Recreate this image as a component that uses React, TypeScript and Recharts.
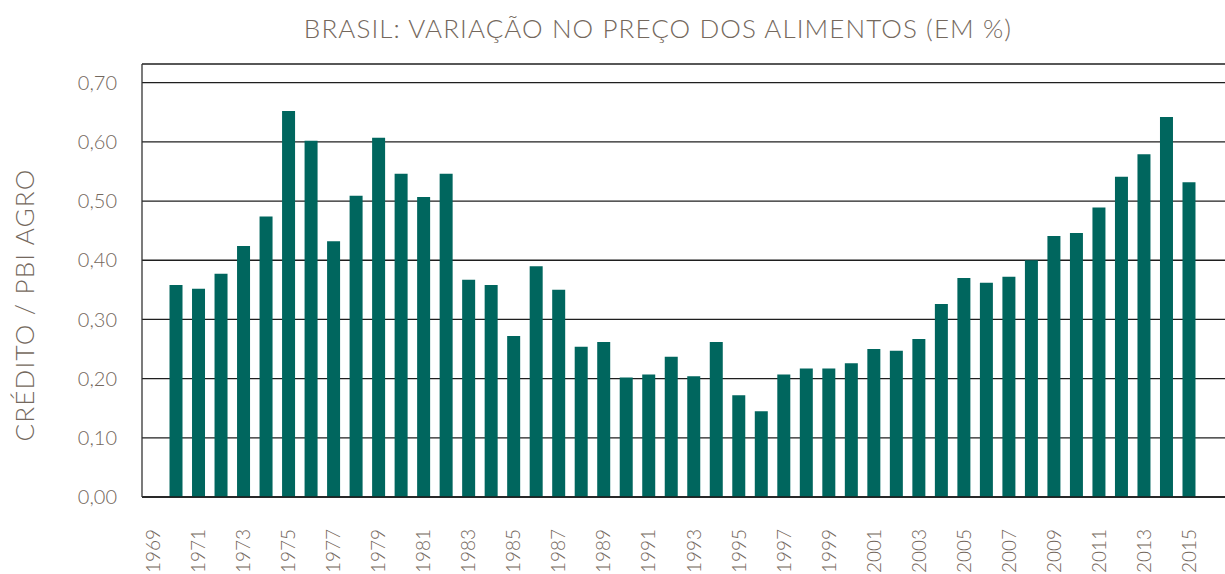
import React from 'react';
import { BarChart, Bar, XAxis, YAxis, CartesianGrid } from 'recharts';

// anos (1969 fica sem barra no original)
const years = [
  1969, 1970, 1971, 1972, 1973, 1974, 1975, 1976, 1977, 1978, 1979,
  1980, 1981, 1982, 1983, 1984, 1985, 1986, 1987, 1988, 1989,
  1990, 1991, 1992, 1993, 1994, 1995, 1996, 1997, 1998, 1999,
  2000, 2001, 2002, 2003, 2004, 2005, 2006, 2007, 2008, 2009,
  2010, 2011, 2012, 2013, 2014, 2015,
];

const ratio = [
  null, 0.358, 0.352, 0.377, 0.424, 0.474, 0.652, 0.602, 0.432, 0.509, 0.607,
  0.546, 0.507, 0.546, 0.367, 0.358, 0.272, 0.39, 0.35, 0.254, 0.262,
  0.202, 0.207, 0.237, 0.204, 0.262, 0.172, 0.145, 0.207, 0.217, 0.217,
  0.226, 0.25, 0.247, 0.267, 0.326, 0.37, 0.362, 0.372, 0.4, 0.441,
  0.446, 0.489, 0.541, 0.579, 0.642, 0.532,
];

const yTicks = [0, 0.1, 0.2, 0.3, 0.4, 0.5, 0.6, 0.7];

const TITLE = 'BRASIL: VARIAÇÃO NO PREÇO DOS ALIMENTOS (EM %)';
const Y_TITLE = 'CRÉDITO / PBI AGRO';

const data = years.map((year, i) => ({ year, value: ratio[i] }));

const TEXT = '#74685d';
const BAR = '#00665e';
const FONT = 'Lato, "Open Sans", sans-serif';

const YearTick = (props: any) => {
  const { x, y, payload } = props;
  return (
    <text
      transform={`translate(${x + 7},${y + 32}) rotate(-90)`}
      textAnchor="end"
      fill={TEXT}
      fontSize={19}
      fontFamily={FONT}
      fontWeight={300}
    >
      {payload.value}
    </text>
  );
};

const App: React.FC = () => {
  return (
    <div style={{ position: 'relative', width: 1225, height: 574 }}>
      <style>{'body { margin: 0; }'}</style>
      <BarChart
        width={1225}
        height={574}
        data={data}
        margin={{ top: 64, right: 0, bottom: 0, left: 0 }}
        barCategoryGap={0}
      >
        <CartesianGrid vertical={false} stroke="#1f1f1f" strokeWidth={1.3} />
        <XAxis
          dataKey="year"
          interval={1}
          height={77}
          tickLine={false}
          tickSize={0}
          tickMargin={0}
          axisLine={{ stroke: '#1a1a1a', strokeWidth: 1.3 }}
          padding={{ left: 0, right: 25 }}
          tick={<YearTick />}
        />
        <YAxis
          width={142}
          domain={[0, 0.7316]}
          ticks={yTicks}
          tickLine={false}
          tickSize={0}
          tickMargin={25}
          axisLine={{ stroke: '#333', strokeWidth: 1.3 }}
          tickFormatter={(v: number) => v.toFixed(2).replace('.', ',')}
          tick={{ fill: TEXT, fontSize: 20, fontFamily: FONT, fontWeight: 300 }}
        />
        <Bar dataKey="value" fill={BAR} barSize={13} isAnimationActive={false} />
      </BarChart>
      <svg
        width={1225}
        height={574}
        style={{ position: 'absolute', left: 0, top: 0, pointerEvents: 'none' }}
      >
        <text
          x={658}
          y={38}
          textAnchor="middle"
          fill={TEXT}
          fontSize={26}
          letterSpacing={1.1}
          fontFamily={FONT}
          fontWeight={300}
        >
          {TITLE}
        </text>
        <text
          transform="translate(34,305) rotate(-90)"
          textAnchor="middle"
          fill={TEXT}
          fontSize={26}
          letterSpacing={1.2}
          fontFamily={FONT}
          fontWeight={300}
        >
          {Y_TITLE}
        </text>
      </svg>
    </div>
  );
};

export default App;
